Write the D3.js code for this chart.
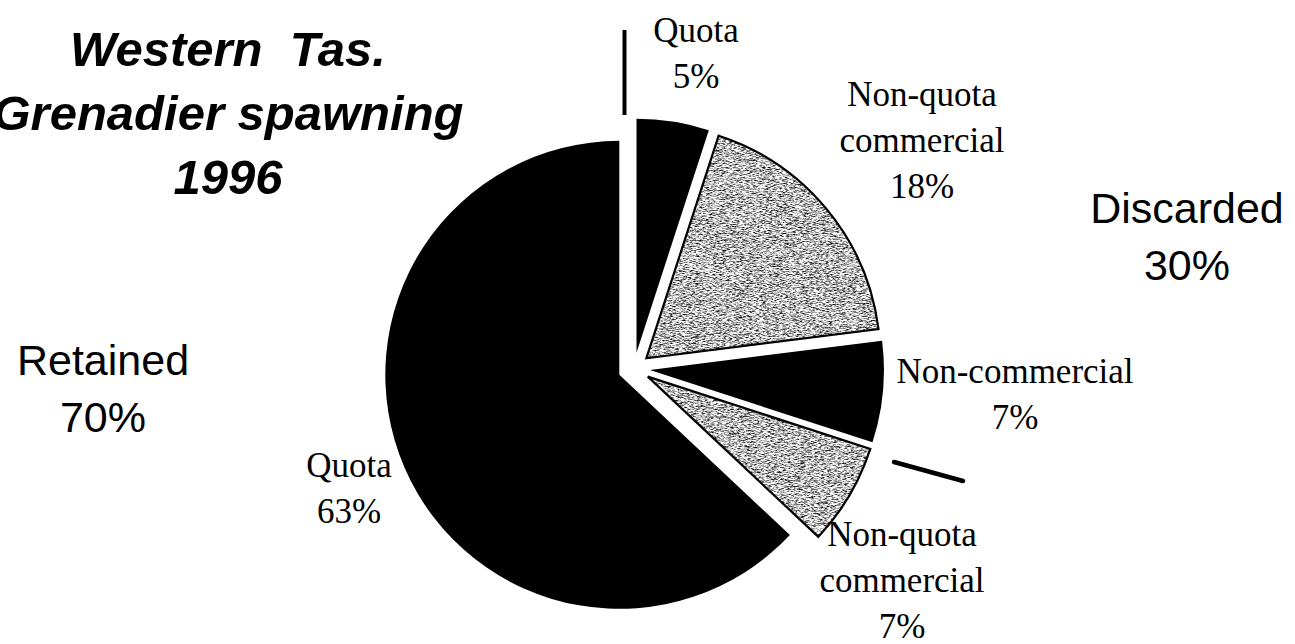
<!DOCTYPE html>
<html>
<head>
<meta charset="utf-8">
<script src="https://cdn.jsdelivr.net/npm/d3@7"></script>
<style>
  html, body { margin: 0; padding: 0; background: #fff; }
  svg { display: block; }
</style>
</head>
<body>
<svg id="chart" width="1295" height="644"></svg>
<script>
// Catch composition, western Tasmania grenadier spawning fishery, 1996
const categories = ["Quota", "Non-quota commercial", "Non-commercial", "Non-quota commercial", "Quota"];
const values = [5, 18, 7, 7, 63];               // percent of catch, clockwise from 12 o'clock
const groupNames = ["Discarded", "Retained"];
const groupTotals = [30, 70];                   // percent, as printed
const titleLines = ["Western  Tas.", "Grenadier spawning", "1996"];

// Appearance: slice shading (solid black or stippled grey) by slice order
const sliceShade = ["black", "grey", "black", "grey", "black"];

const svg = d3.select("#chart");
const W = 1295, H = 644;
svg.append("rect").attr("width", W).attr("height", H).attr("fill", "#fff");

// Stipple texture for the grey slices
const defs = svg.append("defs");
const f = defs.append("filter")
  .attr("id", "stipple")
  .attr("x", 0).attr("y", 0).attr("width", 1).attr("height", 1)
  .attr("color-interpolation-filters", "sRGB");
f.append("feTurbulence")
  .attr("type", "fractalNoise")
  .attr("baseFrequency", "0.3 1.3")
  .attr("numOctaves", 3)
  .attr("seed", 7)
  .attr("result", "noise");
f.append("feColorMatrix")
  .attr("in", "noise")
  .attr("type", "matrix")
  .attr("values", "2.3 0 0 0 -0.42  2.3 0 0 0 -0.42  2.3 0 0 0 -0.42  0 0 0 0 1")
  .attr("result", "grain");
f.append("feComposite")
  .attr("in", "grain").attr("in2", "SourceGraphic").attr("operator", "in");

// Pie geometry
const cx = 634, cy = 368.5, radius = 234, explode = 16;

const pie = d3.pie().sort(null).value(d => d).startAngle(0).endAngle(2 * Math.PI);
const arcs = pie(values);
const arc = d3.arc().innerRadius(0).outerRadius(radius);

const g = svg.append("g").attr("transform", `translate(${cx},${cy})`);

const slice = g.selectAll("g.slice")
  .data(arcs)
  .join("g")
  .attr("class", "slice")
  .attr("transform", d => {
    const mid = (d.startAngle + d.endAngle) / 2;
    return `translate(${explode * Math.sin(mid)},${-explode * Math.cos(mid)})`;
  });

slice.append("path")
  .attr("d", arc)
  .attr("fill", (d, i) => sliceShade[i] === "black" ? "#000" : "#aaa")
  .attr("filter", (d, i) => sliceShade[i] === "grey" ? "url(#stipple)" : null);

slice.filter((d, i) => sliceShade[i] === "grey")
  .append("path")
  .attr("d", arc)
  .attr("fill", "none")
  .attr("stroke", "#000")
  .attr("stroke-width", 2.2)
  .attr("stroke-linejoin", "miter");

// Leader strokes
svg.append("line")
  .attr("x1", 624.5).attr("y1", 30).attr("x2", 624.5).attr("y2", 115)
  .attr("stroke", "#000").attr("stroke-width", 4);
svg.append("line")
  .attr("x1", 894).attr("y1", 462).attr("x2", 963).attr("y2", 481)
  .attr("stroke", "#000").attr("stroke-width", 4.5).attr("stroke-linecap", "round");

// Slice labels (serif), first baseline per slice
const labelAnchor = [[696, 42], [922, 106], [1015, 383], [902, 546], [349, 477]];
const serifLine = 46;
arcs.forEach((d, i) => {
  const lines = categories[i].split(" ").concat([values[i] + "%"]);
  const t = svg.append("text")
    .attr("font-family", "'Liberation Serif', 'Times New Roman', serif")
    .attr("font-size", 35)
    .attr("fill", "#000")
    .attr("text-anchor", "middle");
  lines.forEach((s, k) => {
    t.append("tspan")
      .attr("x", labelAnchor[i][0])
      .attr("y", labelAnchor[i][1] + k * serifLine)
      .text(s);
  });
});

// Group totals (sans)
const groupAnchor = [[1187, 223], [103, 375]];
groupNames.forEach((name, i) => {
  const t = svg.append("text")
    .attr("font-family", "'Liberation Sans', Arial, sans-serif")
    .attr("font-size", 43)
    .attr("fill", "#000")
    .attr("text-anchor", "middle");
  [name, groupTotals[i] + "%"].forEach((s, k) => {
    t.append("tspan")
      .attr("x", groupAnchor[i][0])
      .attr("y", groupAnchor[i][1] + k * 57)
      .text(s);
  });
});

// Title
const title = svg.append("text")
  .attr("font-family", "'Liberation Sans', Arial, sans-serif")
  .attr("font-size", 49)
  .attr("font-weight", "bold")
  .attr("font-style", "italic")
  .attr("fill", "#000")
  .attr("text-anchor", "middle")
  .attr("xml:space", "preserve")
  .style("white-space", "pre");
titleLines.forEach((s, k) => {
  title.append("tspan")
    .attr("x", 228)
    .attr("y", 66 + k * 64)
    .text(s);
});
</script>
</body>
</html>
